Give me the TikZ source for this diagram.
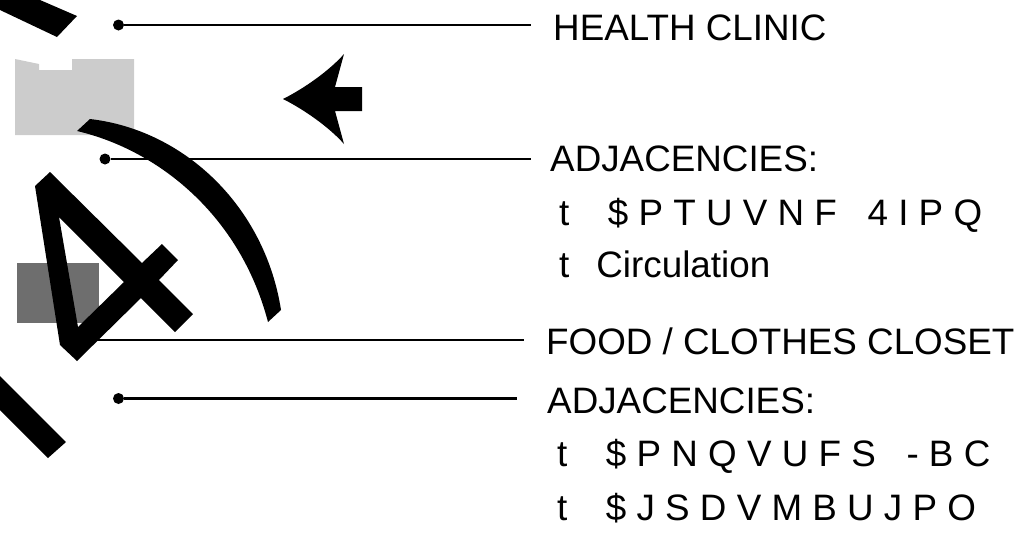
\documentclass[tikz,border=0pt]{standalone}
\usepackage{fontspec}
\setmainfont{Liberation Sans}
\usepackage{xcolor}
\definecolor{clinicgray}{HTML}{CCCCCC}
\definecolor{closetgray}{HTML}{6E6E6E}
\newcommand{\tabgap}{\hspace{38.5pt}}
\tikzset{
  planmark/.style={
    fill=black,
    draw=none
  },
  leaddot/.style={
    circle,
    fill=black,
    inner sep=0pt,
    minimum size=11pt
  },
  leader/.style={
    line width=2.5pt,
    draw=black
  },
  calltext/.style={
    anchor=base west,
    inner sep=0pt,
    font=\fontsize{36.8}{40}\selectfont
  }
}
\begin{document}
\begin{tikzpicture}[x=1pt,y=-1pt]
\useasboundingbox (0,0) rectangle (1029,539);
% room blocks
\fill[clinicgray] (15,59) -- (39,64) -- (39,70) -- (72,70) -- (72,59) -- (134,59) -- (134,135) -- (15,135) -- cycle;
\fill[closetgray] (17,263) rectangle (99,323);
% leaders
\node[leaddot] (clinicdot) at (118.5,25) {};
\node[leaddot] (adjdot) at (105,159) {};
\coordinate (closetdot) at (95,340);
\node[leaddot] (closetadjdot) at (118.5,398.5) {};
\coordinate (clinicend) at (531,25);
\coordinate (adjend) at (531,159);
\coordinate (closetend) at (524,340);
\coordinate (closetadjend) at (517,398.5);
\draw[leader] (clinicdot) -- (clinicend);
\draw[leader] (adjdot) -- (adjend);
\draw[leader] (closetdot) -- (closetend);
\draw[leader] (closetadjdot) -- (closetadjend);
% north arrow and big strokes
\fill[planmark] (283,99) .. controls (305,88) and (330,70) .. (344,54) -- (335,87) -- (362,87) -- (362,111) -- (335,111) -- (344,144) .. controls (330,128) and (305,110) .. (283,99) -- cycle;
\fill[planmark] (0,10) -- (0,0) -- (40,0) -- (77,16) -- (57,37) -- cycle;
\fill[planmark] (90,119) .. controls (185,130) and (265,207) .. (281,310) -- (268,322) .. controls (240,215) and (158,150) .. (77,131) -- cycle;
\fill[planmark,even odd rule] (50,172) -- (35,186) -- (60,345) -- (77,361) -- (141,298) -- (175,332) -- (193,314) -- (159,280) -- (178,260) -- (162,244) -- (142,263) -- cycle
  (59,217) -- (124,282) -- (78,327) -- cycle;
\fill[planmark] (0,376) -- (66,442) -- (48,458) -- (0,410) -- cycle;
% labels
\node[calltext] (clinic) at (553,40) {HEALTH CLINIC};
\node[calltext] (adjhead) at (550,171) {ADJACENCIES:};
\node[calltext] (adjone) at (559,225) {t\tabgap\$ P T U V N F\ \ \ 4 I P Q};
\node[calltext] (adjtwo) at (559,277) {t\hspace{27pt}Circulation};
\node[calltext] (closet) at (546,354) {FOOD / CLOTHES CLOSET};
\node[calltext] (closethead) at (547,413) {ADJACENCIES:};
\node[calltext] (closetone) at (557,466) {t\tabgap\$ P N Q V U F S\ \ \ - B C};
\node[calltext] (closettwo) at (557,520) {t\tabgap\$ J S D V M B U J P O};
\end{tikzpicture}
\end{document}
